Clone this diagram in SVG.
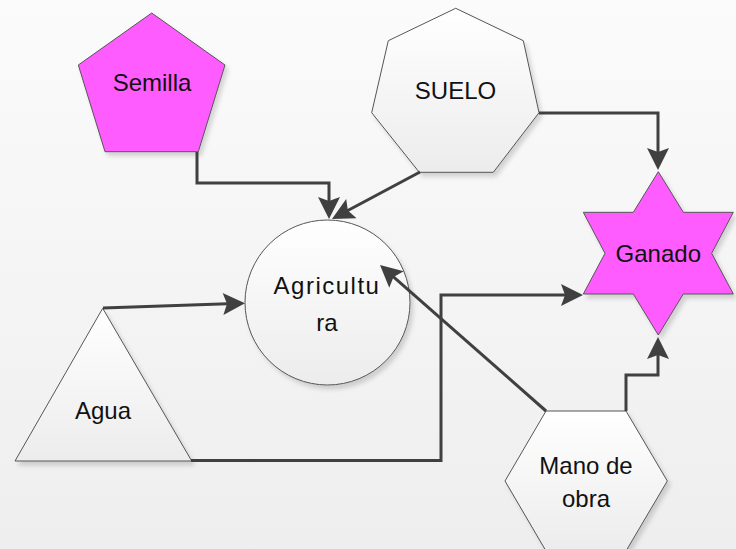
<svg xmlns="http://www.w3.org/2000/svg" width="736" height="549" viewBox="0 0 736 549">
<style>
.shape{stroke:#555;stroke-width:1}
.light{fill:url(#gLight)}
.mag{fill:#ff5cff}
.lbl{font-family:"Liberation Sans",Arial,sans-serif;font-size:24px;fill:#111;text-anchor:middle;dominant-baseline:central}
.conn{fill:none;stroke:#404040;stroke-width:3;stroke-linejoin:miter}
</style>
<defs>
<linearGradient id="bg" x1="0" y1="0" x2="0" y2="1">
<stop offset="0" stop-color="#fbfbfb"/>
<stop offset="1" stop-color="#eeeeee"/>
</linearGradient>
<linearGradient id="gLight" x1="0" y1="0" x2="0" y2="1">
<stop offset="0" stop-color="#ffffff"/>
<stop offset="1" stop-color="#ececec"/>
</linearGradient>
<filter id="sh" x="-20%" y="-20%" width="140%" height="140%">
<feDropShadow dx="3" dy="4" stdDeviation="2" flood-color="#000" flood-opacity="0.15"/>
</filter>
<marker id="arr" markerUnits="userSpaceOnUse" markerWidth="30" markerHeight="30" refX="12" refY="11" orient="auto" overflow="visible">
<path d="M0,0 L22,11 L0,22 L4,11 z" fill="#404040"/>
</marker>
</defs>
<rect width="736" height="549" fill="url(#bg)"/>

<g id="semilla">
<polygon class="shape mag" filter="url(#sh)" points="151.7,13 225,65 198.3,151.7 105,151.7 78.3,65"/>
<text class="lbl" x="152" y="82">Semilla</text>
</g>

<g id="suelo">
<polygon class="shape light" filter="url(#sh)" points="455.7,8.3 523.3,40.7 539,112.7 493.3,172.3 419.3,172.3 371.7,112.7 388.3,40.7"/>
<text class="lbl" x="455.5" y="90">SUELO</text>
</g>

<g id="ganado">
<polygon class="shape mag" filter="url(#sh)" points="658.3,171.7 683.3,212.3 733.3,212.3 711.7,253.3 733.3,294 683.3,294 658.3,335 633.3,294 583.3,294 605,253.3 583.3,212.3 633.3,212.3"/>
<text class="lbl" x="658.3" y="253.5">Ganado</text>
</g>

<g id="agricultura">
<circle class="shape light" filter="url(#sh)" cx="327.5" cy="302.5" r="82.5"/>
<text class="lbl" x="327" y="285" style="letter-spacing:1.5px">Agricultu</text>
<text class="lbl" x="327" y="322">ra</text>
</g>

<g id="agua">
<polygon class="shape light" filter="url(#sh)" points="102.7,308.3 191.7,461 15,461"/>
<text class="lbl" x="103" y="410">Agua</text>
</g>

<g id="mano">
<polygon class="shape light" filter="url(#sh)" points="546,411 626,411 667.3,481 626,551 546,551 505,481"/>
<text class="lbl" x="586" y="465">Mano de</text>
<text class="lbl" x="586" y="498">obra</text>
</g>

<g id="connectors">
<path class="conn" d="M197,152 V183 H329 V209" marker-end="url(#arr)"/>
<path class="conn" d="M420,172 L340.8,214.3" marker-end="url(#arr)"/>
<path class="conn" d="M539,113 H658 V160" marker-end="url(#arr)"/>
<path class="conn" d="M103,308 L235,303.6" marker-end="url(#arr)"/>
<path class="conn" d="M191,460.5 H441 V295 H573" marker-end="url(#arr)"/>
<path class="conn" d="M546,411 L387.5,271.6" marker-end="url(#arr)"/>
<path class="conn" d="M626,411 V375 H658 V347" marker-end="url(#arr)"/>
</g>
</svg>
